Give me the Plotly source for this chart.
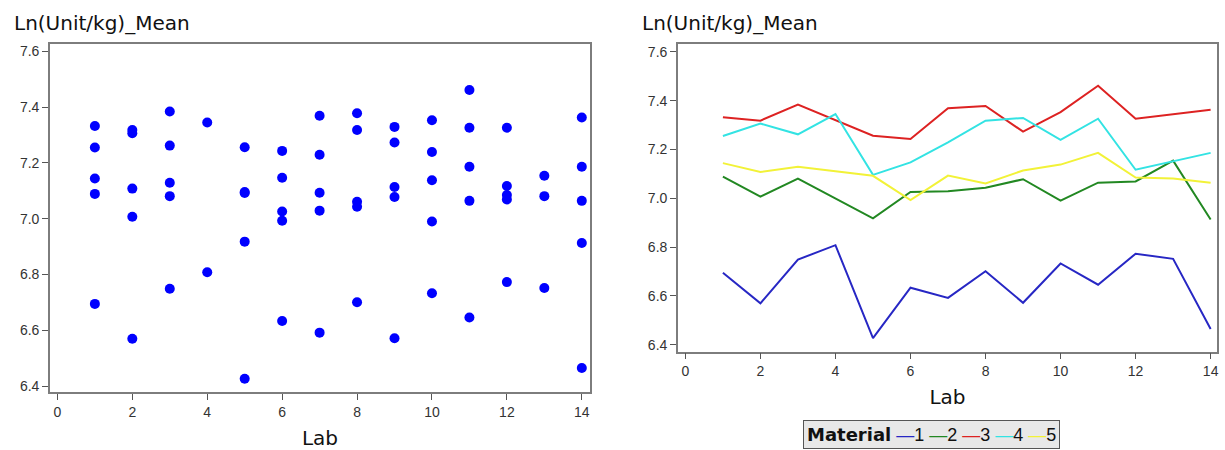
import plotly.graph_objects as go

labs = [1, 2, 3, 4, 5, 6, 7, 8, 9, 10, 11, 12, 13, 14]
material_names = ["1", "2", "3", "4", "5"]
m1 = [6.695, 6.570, 6.749, 6.808, 6.427, 6.634, 6.592, 6.701, 6.572, 6.733, 6.646, 6.773, 6.752, 6.465]
m2 = [7.089, 7.007, 7.081, None, 6.918, 7.026, 7.029, 7.043, 7.078, 6.990, 7.064, 7.069, 7.154, 6.913]
m3 = [7.332, 7.318, 7.384, None, 7.256, 7.243, 7.369, 7.378, 7.273, 7.353, 7.461, 7.326, None, 7.363]
m4 = [7.255, 7.306, 7.262, 7.345, 7.096, 7.147, 7.229, 7.318, 7.329, 7.239, 7.326, 7.117, None, 7.186]
m5 = [7.144, 7.108, 7.129, None, 7.092, 6.993, 7.093, 7.061, 7.114, 7.138, 7.186, 7.085, 7.081, 7.064]
series = [m1, m2, m3, m4, m5]
line_colors = ["#2727c4", "#228822", "#dd2222", "#33e3e3", "#f2f238"]
y_ticks = [6.4, 6.6, 6.8, 7.0, 7.2, 7.4, 7.6]
x_ticks = [0, 2, 4, 6, 8, 10, 12, 14]

W, H = 1225, 450
fig = go.Figure()

for vals in series:
    fig.add_trace(go.Scatter(x=labs, y=vals, mode="markers", xaxis="x", yaxis="y",
                             marker=dict(color="#0000ff", size=10), showlegend=False))

for name, vals, col in zip(material_names, series, line_colors):
    fig.add_trace(go.Scatter(x=labs, y=vals, mode="lines", xaxis="x2", yaxis="y2",
                             connectgaps=True, name=name,
                             line=dict(color=col, width=2), showlegend=False))

tickfont = dict(family="Liberation Sans, Arial, sans-serif", size=14, color="#333333")
axis_common = dict(showline=True, mirror=True, linecolor="#7d7d7d", linewidth=1.5,
                   ticks="outside", ticklen=6, tickcolor="#555555", tickwidth=1,
                   showgrid=False, zeroline=False, tickfont=tickfont)
title_font = dict(family="DejaVu Sans, sans-serif", size=20, color="#111111")

fig.update_layout(
    width=W, height=H,
    margin=dict(l=0, r=0, t=0, b=0),
    paper_bgcolor="white", plot_bgcolor="white",
    xaxis=dict(domain=[50 / W, 591 / W], range=[-0.2, 14.22], tickvals=x_ticks,
               title=dict(text="Lab", font=title_font, standoff=12), anchor="y", **axis_common),
    yaxis=dict(domain=[1 - 394 / H, 1 - 43 / H], range=[6.378, 7.627], tickvals=y_ticks,
               tickformat=".1f", anchor="x", **axis_common),
    xaxis2=dict(domain=[679 / W, 1219 / W], range=[-0.2, 14.17], tickvals=x_ticks,
                title=dict(text="Lab", font=title_font, standoff=12), anchor="y2", **axis_common),
    yaxis2=dict(domain=[1 - 353 / H, 1 - 43 / H], range=[6.372, 7.633], tickvals=y_ticks,
                tickformat=".1f", anchor="x2", **axis_common),
    showlegend=False,
)

for x0 in (12, 641):
    fig.add_annotation(text="Ln(Unit/kg)_Mean", xref="paper", yref="paper",
                       x=x0 / W, y=1 - 22 / H, xanchor="left", yanchor="middle",
                       showarrow=False, font=title_font)

legend_parts = ["<span style='font-family:DejaVu Sans;font-weight:bold'>Material</span>"]
for name, col in zip(material_names, line_colors):
    legend_parts.append(f"<span style='color:{col}'>—</span>{name}")
legend_text = " ".join(legend_parts)
fig.add_annotation(text=legend_text, xref="paper", yref="paper",
                   x=933 / W, y=1 - 436 / H, xanchor="center", yanchor="middle",
                   showarrow=False, bgcolor="#e8e8e8", bordercolor="#555555", borderwidth=1,
                   borderpad=3,
                   font=dict(family="Liberation Sans, Arial, sans-serif", size=18, color="#111111"))

fig.write_html("out.html", config={"displayModeBar": False},
               post_script="document.body.style.margin='0';document.body.style.overflow='hidden';")
